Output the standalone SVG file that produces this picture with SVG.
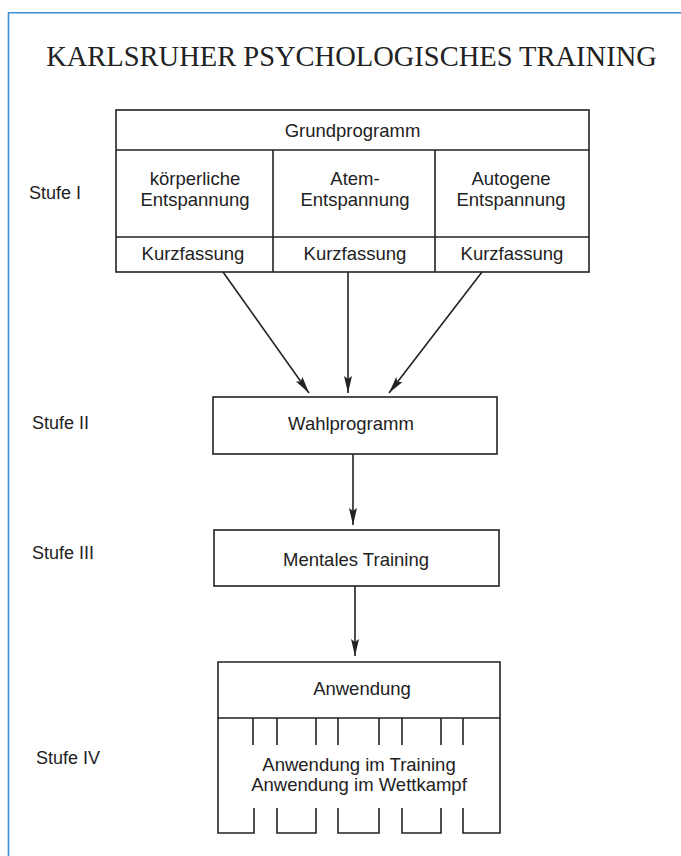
<svg xmlns="http://www.w3.org/2000/svg" width="681" height="856" viewBox="0 0 681 856">
<defs>
<style>
.t{font-family:"Liberation Sans",Arial,sans-serif;font-size:18.5px;fill:#222;text-anchor:middle}
.s{font-family:"Liberation Sans",Arial,sans-serif;font-size:18px;fill:#222}
.b{fill:none;stroke:#222;stroke-width:1.6}
.c{fill:none;stroke:#222;stroke-width:1.6}
</style>
<marker id="ah" markerUnits="userSpaceOnUse" markerWidth="18" markerHeight="10" refX="17" refY="4.5" orient="auto">
<path d="M0,0.5 L17,4.5 L0,8.5 L3,4.5 z" fill="#222"/>
</marker>
</defs>
<rect width="681" height="856" fill="#fff"/>
<path d="M8.5,856 V12.7 H681" fill="none" stroke="#3a8fd6" stroke-width="1.6"/>
<text x="351.5" y="66" font-family="Liberation Serif,Times New Roman,serif" font-size="28.5" fill="#222" text-anchor="middle">KARLSRUHER PSYCHOLOGISCHES TRAINING</text>

<g id="stufen">
<text class="s" x="29" y="199">Stufe I</text>
<text class="s" x="32" y="429">Stufe II</text>
<text class="s" x="32" y="559">Stufe III</text>
<text class="s" x="36" y="764">Stufe IV</text>
</g>

<g id="grundprogramm">
<rect class="b" x="116" y="110" width="473" height="162"/>
<line class="b" x1="116" y1="150" x2="589" y2="150"/>
<line class="b" x1="116" y1="237" x2="589" y2="237"/>
<line class="b" x1="273" y1="150" x2="273" y2="272"/>
<line class="b" x1="435" y1="150" x2="435" y2="272"/>
<text class="t" x="352.5" y="137">Grundprogramm</text>
<text class="t" x="195" y="185">körperliche</text>
<text class="t" x="195" y="206">Entspannung</text>
<text class="t" x="355" y="185">Atem-</text>
<text class="t" x="355" y="206">Entspannung</text>
<text class="t" x="511" y="185">Autogene</text>
<text class="t" x="511" y="206">Entspannung</text>
<text class="t" x="193" y="260">Kurzfassung</text>
<text class="t" x="355" y="260">Kurzfassung</text>
<text class="t" x="512" y="260">Kurzfassung</text>
</g>

<g id="wahlprogramm">
<rect class="b" x="213" y="397" width="284" height="57"/>
<text class="t" x="351" y="430">Wahlprogramm</text>
</g>

<g id="mentales-training">
<rect class="b" x="214" y="530" width="285" height="56"/>
<text class="t" x="356" y="566">Mentales Training</text>
</g>

<g id="anwendung">
<path class="b" d="M218,662 H500 V718 H218 Z"/>
<path class="b" d="M218,718 V833 H254 V808 M277,808 V833 H316 V808 M338,808 V833 H379 V808 M402,808 V833 H441 V808 M463,808 V833 H500 V718"/>
<path class="b" d="M253,718 V745 M277,718 V745 M316,718 V745 M338,718 V745 M379,718 V745 M402,718 V745 M441,718 V745 M463,718 V745"/>
<text class="t" x="362" y="695">Anwendung</text>
<text class="t" x="359" y="771">Anwendung im Training</text>
<text class="t" x="359" y="791">Anwendung im Wettkampf</text>
</g>

<g id="connectors">
<line class="c" x1="223" y1="272" x2="309" y2="393" marker-end="url(#ah)"/>
<line class="c" x1="348" y1="272" x2="348" y2="393" marker-end="url(#ah)"/>
<line class="c" x1="482" y1="272" x2="389" y2="393" marker-end="url(#ah)"/>
<line class="c" x1="353" y1="454" x2="353" y2="525" marker-end="url(#ah)"/>
<line class="c" x1="355" y1="586" x2="355" y2="656" marker-end="url(#ah)"/>
</g>
</svg>
